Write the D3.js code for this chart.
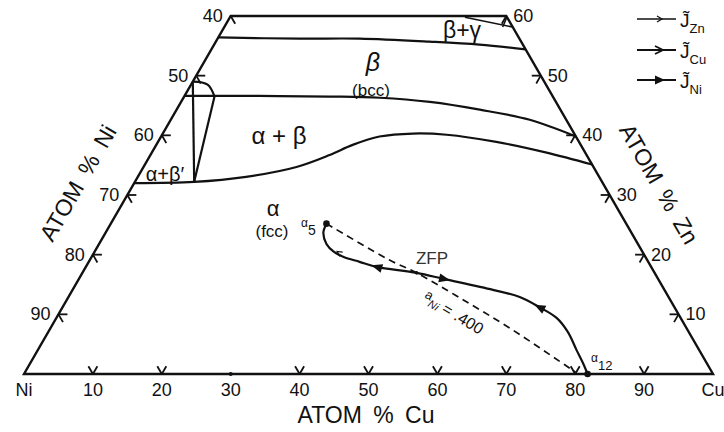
<!DOCTYPE html>
<html><head><meta charset="utf-8">
<script src="https://cdn.jsdelivr.net/npm/d3@7"></script>
<style>
html,body{margin:0;padding:0;background:#fff;}
svg{display:block;}
text{font-family:"Liberation Sans",Arial,sans-serif;fill:#111;}
</style></head><body>
<svg id="chart" width="724" height="432"></svg>
<script>
// Compositions are [atom % Cu, atom % Zn]; Ni makes up the remainder.
const cuTickValues = [10, 20, 40, 50, 60, 70, 80, 90];
const cuLabelValues = [0, 10, 20, 30, 40, 50, 60, 70, 80, 90, 100];
const cuLabelText = ["Ni", "10", "20", "30", "40", "50", "60", "70", "80", "90", "Cu"];
const niTickValues = [40, 50, 60, 70, 80, 90];
const znTickValues = [10, 20, 30, 40, 50, 60];
const znTop = 60;

// phase boundaries of the Cu-Ni-Zn isotherm
const betaGammaBoundary = [[0,56.4],[11.9,56.2],[20.6,56.2],[31.0,55.7],[38.5,55.2],[45.6,54.4]];
const betaBoundary = [[0,46.6],[10.8,46.6],[21.1,46.5],[28.5,46.3],[36.1,45.6],[44.0,44.3],[52.1,42.6],[60.2,39.8]];
const alphaBoundary = [[0,32.0],[8.6,32.2],[15.7,33.05],[22.2,34.7],[26.0,36.7],[28.5,38.4],[31.7,39.8],[36.3,40.3],[41.3,40.1],[49.1,38.9],[57.3,37.1],[64.9,35.1]];
const betaPrimeTies = [
  [[0,49.0],[8.6,32.2]],
  [[4.4,46.5],[8.6,32.2]]
];
const betaPrimeArc = [[0,49.0],[2.4,48.5],[4.4,46.5]];
const gammaTies = [
  [[34.1,59.8],[41.85,58.15]],
  [[40.4,58.15],[40.2,59.7]]
];

// diffusion path between couple ends alpha5 and alpha12
const diffusionPath = [[31.3,25.2],[31.6,23.7],[33.0,21.8],[34.7,20.5],[36.6,19.6],[39.3,18.8],[42.2,17.95],[48.5,16.95],[53.1,15.9],[61.0,14.1],[65.5,12.9],[69.2,11.2],[72.6,9.4],[75.4,7.05],[78.2,4.0],[80.2,1.85],[81.8,0]];
const isoActivity = [[31.3,25.2],[43.5,19.1],[48.5,16.95],[56.9,12.75],[67.2,7.4],[79.9,0.3]];
const zfp = [48.5,16.95];
const alpha5 = [31.3,25.2];
const alpha12 = [81.8,0];
const fluxArrows = [
  {at:[42.2,17.95], toward:[39.3,18.8]},
  {at:[53.1,15.9], toward:[61.0,14.1]},
  {at:[69.2,11.2], toward:[65.5,12.9]}
];
const znFluxMark = {at:[35.6,20.3], toward:[33.6,21.4]};

const legendSpecies = ["Zn", "Cu", "Ni"];

const svg = d3.select("#chart");
const side = 689;
const xs = d3.scaleLinear().domain([0,100]).range([24, 24 + side]);
const ys = d3.scaleLinear().domain([0,100]).range([374, 374 - side * Math.sqrt(3) / 2]);
const P = d => [xs(d[0] + d[1] / 2), ys(d[1])];

const smooth = d3.line().x(d => P(d)[0]).y(d => P(d)[1]).curve(d3.curveCatmullRom.alpha(0.5));
const straight = d3.line().x(d => P(d)[0]).y(d => P(d)[1]);

const ink = "#111";

// outline of the truncated triangle
const outline = [[0,0],[100,0],[100 - znTop, znTop],[0, znTop]];
svg.append("path").attr("d", straight(outline) + "Z")
  .attr("fill", "none").attr("stroke", ink).attr("stroke-width", 2.4).attr("stroke-linejoin", "miter");

// tick marks: two short strokes parallel to the other two sides
const tl = 9;
const dirs = {
  up_left: [-0.5, -Math.sqrt(3)/2], up_right: [0.5, -Math.sqrt(3)/2],
  right: [1, 0], left: [-1, 0],
  down_right: [0.5, Math.sqrt(3)/2], down_left: [-0.5, Math.sqrt(3)/2]
};
function tick(p, a, b) {
  const [x, y] = P(p);
  [a, b].forEach(k => {
    svg.append("line").attr("x1", x).attr("y1", y)
      .attr("x2", x + dirs[k][0] * tl).attr("y2", y + dirs[k][1] * tl)
      .attr("stroke", ink).attr("stroke-width", 1.8);
  });
}
cuTickValues.forEach(v => tick([v, 0], "up_left", "up_right"));
svg.append("circle").attr("cx", P([30,0])[0]).attr("cy", P([30,0])[1]).attr("r", 2).attr("fill", ink);
niTickValues.forEach(v => tick([0, 100 - v], "right", "down_right"));
znTickValues.forEach(v => tick([100 - v, v], "left", "down_left"));

// tick labels
const tickFont = 18;
cuLabelValues.forEach((v, i) => {
  const [x, y] = P([v, 0]);
  svg.append("text").attr("x", x).attr("y", y + 22).attr("text-anchor", "middle")
    .attr("font-size", tickFont).text(cuLabelText[i]);
});
niTickValues.forEach(v => {
  const [x, y] = P([0, 100 - v]);
  svg.append("text").attr("x", x - 8).attr("y", y + 6).attr("text-anchor", "end")
    .attr("font-size", tickFont).text(v);
});
znTickValues.forEach(v => {
  const [x, y] = P([100 - v, v]);
  svg.append("text").attr("x", x + 7).attr("y", y + 6).attr("text-anchor", "start")
    .attr("font-size", tickFont).text(v);
});

// axis titles
svg.append("text").attr("x", 366).attr("y", 423).attr("text-anchor", "middle")
  .attr("font-size", 23).attr("word-spacing", 5).text("ATOM % Cu");
svg.append("text").attr("transform", "translate(78,183) rotate(-60)").attr("text-anchor", "middle")
  .attr("dy", 8).attr("font-size", 23).attr("word-spacing", 5).text("ATOM % Ni");
svg.append("text").attr("transform", "translate(659,184) rotate(60)").attr("text-anchor", "middle")
  .attr("dy", 8).attr("font-size", 23).attr("word-spacing", 5).text("ATOM % Zn");

// phase boundaries
const boundary = (data, gen) => svg.append("path").attr("d", gen(data))
  .attr("fill", "none").attr("stroke", ink).attr("stroke-width", 2.2);
boundary(betaGammaBoundary, smooth);
boundary(betaBoundary, smooth);
boundary(alphaBoundary, smooth);
boundary(betaPrimeArc, smooth);
betaPrimeTies.forEach(t => boundary(t, straight));
gammaTies.forEach(t => boundary(t, straight).attr("stroke-width", 1.6));

// phase field labels
const label = (x, y, size, txt, style) => svg.append("text").attr("x", x).attr("y", y)
  .attr("text-anchor", "middle").attr("font-size", size).attr("font-style", style || "normal").text(txt);
label(373, 71, 25, "β", "italic");
label(371, 96, 17, "(bcc)");
label(279, 144, 24, "α + β");
label(273, 216, 22, "α");
label(272, 237, 17, "(fcc)");
label(165, 181, 20, "α+β′");
label(462, 38, 23, "β+γ");

// isoactivity line
svg.append("path").attr("d", smooth(isoActivity)).attr("fill", "none")
  .attr("stroke", ink).attr("stroke-width", 1.7).attr("stroke-dasharray", "7,5");

// diffusion path
svg.append("path").attr("d", smooth(diffusionPath)).attr("fill", "none")
  .attr("stroke", ink).attr("stroke-width", 2.2);

function arrowHead(f, len, half, filled) {
  const [x0, y0] = P(f.at), [x1, y1] = P(f.toward);
  const a = Math.atan2(y1 - y0, x1 - x0) * 180 / Math.PI;
  const g = svg.append("g").attr("transform", `translate(${x0},${y0}) rotate(${a})`);
  if (filled) {
    g.append("path").attr("d", `M${len/2},0L${-len/2},${-half}L${-len/2},${half}Z`).attr("fill", ink);
  } else {
    g.append("path").attr("d", `M${-len/2},${-half}L${len/2},0L${-len/2},${half}`)
      .attr("fill", "none").attr("stroke", ink).attr("stroke-width", 1.2);
  }
}
fluxArrows.forEach(f => arrowHead(f, 11, 4.5, true));
arrowHead(znFluxMark, 5, 2.5, false);

// couple end points and zero-flux plane
[alpha5, alpha12].forEach(d => svg.append("circle").attr("cx", P(d)[0]).attr("cy", P(d)[1]).attr("r", 3.3).attr("fill", ink));
svg.append("circle").attr("cx", P(zfp)[0]).attr("cy", P(zfp)[1]).attr("r", 1.8).attr("fill", ink);
svg.append("text").attr("x", 432).attr("y", 264).attr("text-anchor", "middle")
  .attr("font-family", "'Liberation Mono','Courier New',monospace").attr("font-size", 17)
  .style("fill", "#333").text("ZFP");

function subLabel(x, y, main, sub, s1, s2) {
  const t = svg.append("text").attr("x", x).attr("y", y).attr("font-size", s1);
  t.append("tspan").text(main);
  t.append("tspan").attr("dy", 8).attr("font-size", s2).text(sub);
}
subLabel(301, 227, "α", "5", 12, 14);
subLabel(591, 362, "α", "12", 12, 13);

// isoactivity label
const iso = svg.append("text").attr("transform", "translate(424,297) rotate(31)").attr("font-size", 13);
iso.append("tspan").text("a");
iso.append("tspan").attr("dy", 6).attr("font-size", 11).attr("font-style", "italic").text("Ni");
iso.append("tspan").attr("dy", -2).attr("font-size", 16).text(" = .400");

// legend of flux arrows (interdiffusion fluxes, J with tilde)
const lx0 = 637, lx1 = 676;
const legendY = [19, 50, 80];
legendSpecies.forEach((s, i) => {
  const y = legendY[i];
  svg.append("line").attr("x1", lx0).attr("x2", lx1).attr("y1", y).attr("y2", y)
    .attr("stroke", ink).attr("stroke-width", i === 0 ? 1.3 : 1.8);
  const cx = 661;
  if (i === 0) {
    svg.append("path").attr("d", `M${cx-4},${y-3}L${cx+1},${y}L${cx-4},${y+3}`)
      .attr("fill", "none").attr("stroke", ink).attr("stroke-width", 1.2);
  } else if (i === 1) {
    svg.append("path").attr("d", `M${cx-6},${y-4}L${cx+2},${y}L${cx-6},${y+4}`)
      .attr("fill", "none").attr("stroke", ink).attr("stroke-width", 1.8);
  } else {
    svg.append("path").attr("d", `M${cx+4},${y}L${cx-6},${y-4.5}L${cx-6},${y+4.5}Z`).attr("fill", ink);
  }
  const t = svg.append("text").attr("x", 680).attr("y", y + 8).attr("font-size", 19);
  t.append("tspan").text("J\u0303");
  t.append("tspan").attr("dy", 6).attr("font-size", 13).text(s);
});
</script>
</body></html>
